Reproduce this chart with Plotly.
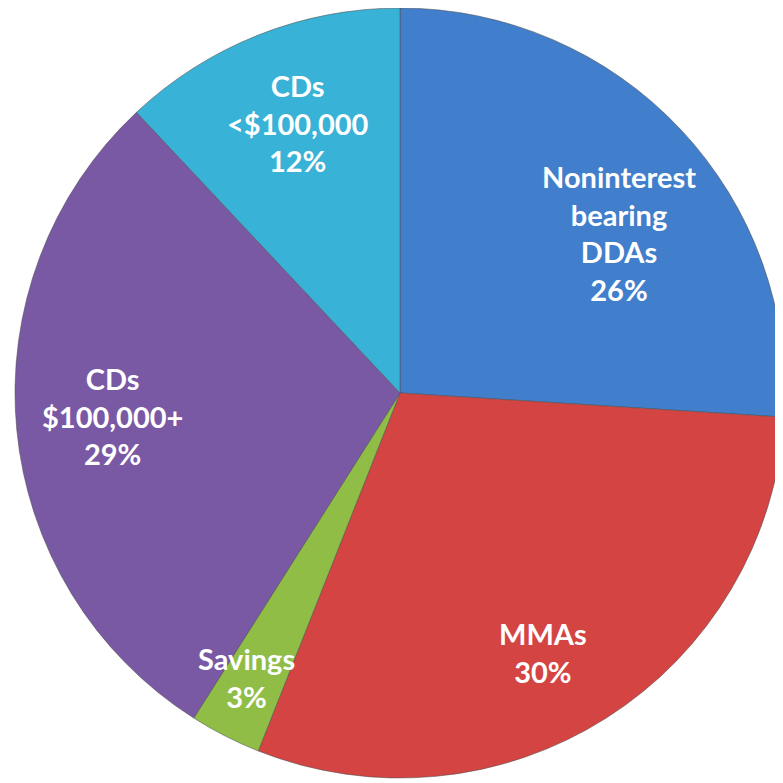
import math
import plotly.graph_objects as go

labels = ["Noninterest<br>bearing<br>DDAs", "MMAs", "Savings", "CDs<br>$100,000+", "CDs<br><$100,000"]
values = [26, 30, 3, 29, 12]
colors = ["#417ecb", "#d44442", "#8fbd46", "#7959a4", "#38b2d6"]
# label placement styling (radial fraction, angular nudge in degrees)
label_radius = [0.70, 0.78, 0.85, 0.75, 0.74]
label_nudge = [7.7, 3.9, 1.0, 0.0, 0.6]

W = H = 783
x0, x1 = 6 / W, 778 / W
y0, y1 = 13 / H, 1.0

fig = go.Figure(go.Pie(
    labels=labels, values=values, sort=False, direction="clockwise", rotation=0,
    marker=dict(colors=colors, line=dict(color="rgba(80,80,80,0.55)", width=1)),
    textinfo="none", hoverinfo="label+percent", showlegend=False,
    domain=dict(x=[x0, x1], y=[y0, y1]),
))

# label positions from the data: mid-angle of each slice
wpx = (x1 - x0) * W
hpx = (y1 - y0) * H
R = min(wpx, hpx) / 2
cx = x0 * W + wpx / 2
cy = (1 - y1) * H + hpx / 2
total = sum(values)
cum = 0
for lab, v, rf, nd in zip(labels, values, label_radius, label_nudge):
    mid = (cum + v / 2) / total * 2 * math.pi + math.radians(nd)
    cum += v
    px = cx + rf * R * math.sin(mid)
    py = cy - rf * R * math.cos(mid)
    fig.add_annotation(
        x=px / W, y=1 - py / H, xref="paper", yref="paper",
        xanchor="center", yanchor="middle", yshift=4,
        text=f"<b>{lab}<br>{round(v / total * 100)}%</b>", showarrow=False,
        font=dict(family="Lato", size=29, color="white"), align="center",
    )

fig.update_layout(
    width=W, height=H, margin=dict(l=0, r=0, t=0, b=0),
    paper_bgcolor="white", plot_bgcolor="white",
)
fig.write_html("out.html")
